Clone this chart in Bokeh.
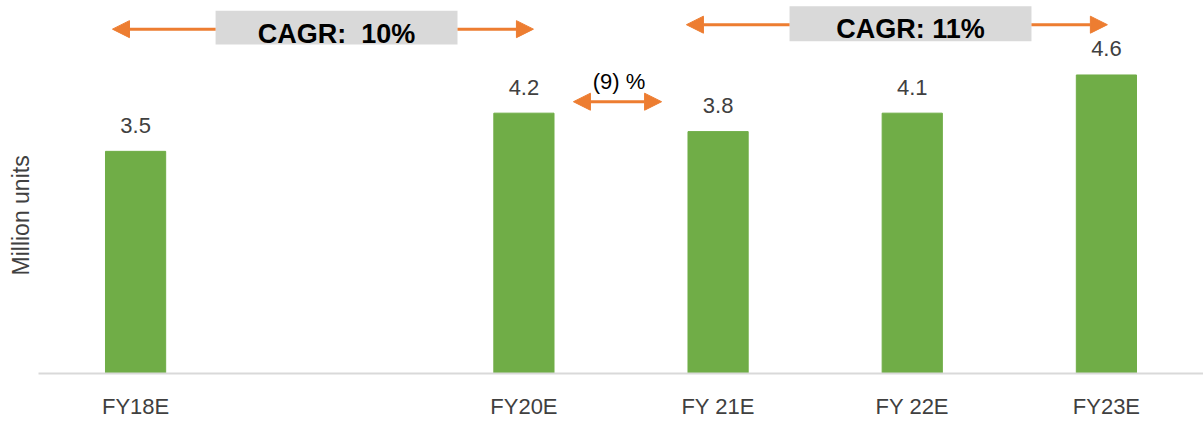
from bokeh.plotting import figure
from bokeh.models import FactorRange, ColumnDataSource, Label, Arrow, NormalHead, BoxAnnotation, Title
from bokeh.core.properties import value
from bokeh.embed import file_html
from bokeh.resources import INLINE

# ---- data ----
axis_factors = ["FY18E", " ", "FY20E", "FY 21E", "FY 22E", "FY23E"]
bar_categories = ["FY18E", "FY20E", "FY 21E", "FY 22E", "FY23E"]
bar_values = [3.49, 4.09, 3.8, 4.09, 4.69]   # bar heights as drawn
bar_labels = ["3.5", "4.2", "3.8", "4.1", "4.6"]
cagr_texts = ["CAGR: \u00a010%", "CAGR: 11%"]
change_text = "(9) %"
y_title = "Million units"

FONT = "Liberation Sans"
GREEN = "#70AD47"
ORANGE = "#ED7D31"
GREY_BOX = "#D9D9D9"
TXT = "#404040"

src = ColumnDataSource(dict(cat=bar_categories, val=bar_values, lab=bar_labels))

p = figure(
    width=1203, height=421,
    x_range=FactorRange(factors=axis_factors, range_padding=0),
    y_range=(0, 5.86),
    output_backend="svg", toolbar_location=None,
    y_axis_location=None,
    min_border_left=38, min_border_right=0, min_border_top=0, min_border_bottom=46,
)
p.outline_line_color = None
p.xgrid.visible = False
p.ygrid.visible = False
p.background_fill_color = "white"
p.border_fill_color = "white"

p.vbar(x="cat", top="val", width=0.31, source=src, color=GREEN)
p.text(x="cat", y="val", text="lab", source=src, y_offset=-26,
       text_align="center", text_baseline="alphabetic",
       text_font=value(FONT), text_font_size="22px", text_color=TXT)

ax = p.xaxis[0]
ax.axis_line_color = GREY_BOX
ax.axis_line_width = 2
ax.major_tick_line_color = None
ax.minor_tick_line_color = None
ax.major_tick_out = 0
ax.major_label_standoff = 20
ax.major_label_text_font = FONT
ax.major_label_text_font_size = "22px"
ax.major_label_text_color = TXT

# y-axis title
p.add_layout(Title(text=y_title, align="left", offset=98, standoff=10,
                   text_font=FONT, text_font_size="23px", text_font_style="normal",
                   text_color=TXT), "left")

def cagr(box_l, box_r, tip_l, tip_r, box_b, box_t, arrow_y, text, text_y):
    p.add_layout(BoxAnnotation(left=box_l, right=box_r, bottom=box_b, top=box_t,
                               fill_color=GREY_BOX, fill_alpha=1.0, line_color=None))
    for xs, xe in ((box_l, tip_l), (box_r, tip_r)):
        p.add_layout(Arrow(x_start=xs, y_start=arrow_y, x_end=xe, y_end=arrow_y,
                           line_color=ORANGE, line_width=3,
                           end=NormalHead(size=17, fill_color=ORANGE, line_color=ORANGE)))
    p.add_layout(Label(x=(box_l + box_r) / 2, y=text_y, text=text,
                       text_align="center", text_baseline="alphabetic",
                       text_font=FONT, text_font_size="27px", text_font_style="bold",
                       text_color="black"))

cagr(0.912, 2.158, 0.381, 2.549, 5.17, 5.70, 5.41, cagr_texts[0], 5.34)
cagr(3.868, 5.114, 3.337, 5.505, 5.22, 5.77, 5.48, cagr_texts[1], 5.41)

# (9)% arrow
p.add_layout(Arrow(x_start=2.755, y_start=4.27, x_end=3.209, y_end=4.27,
                   line_color=ORANGE, line_width=3,
                   start=NormalHead(size=17, fill_color=ORANGE, line_color=ORANGE),
                   end=NormalHead(size=17, fill_color=ORANGE, line_color=ORANGE)))
p.add_layout(Label(x=2.99, y=4.59, text=change_text, text_align="center",
                   text_baseline="alphabetic", text_font=FONT, text_font_size="22px",
                   text_color="black"))

open("out.html", "w").write(file_html(p, INLINE))
